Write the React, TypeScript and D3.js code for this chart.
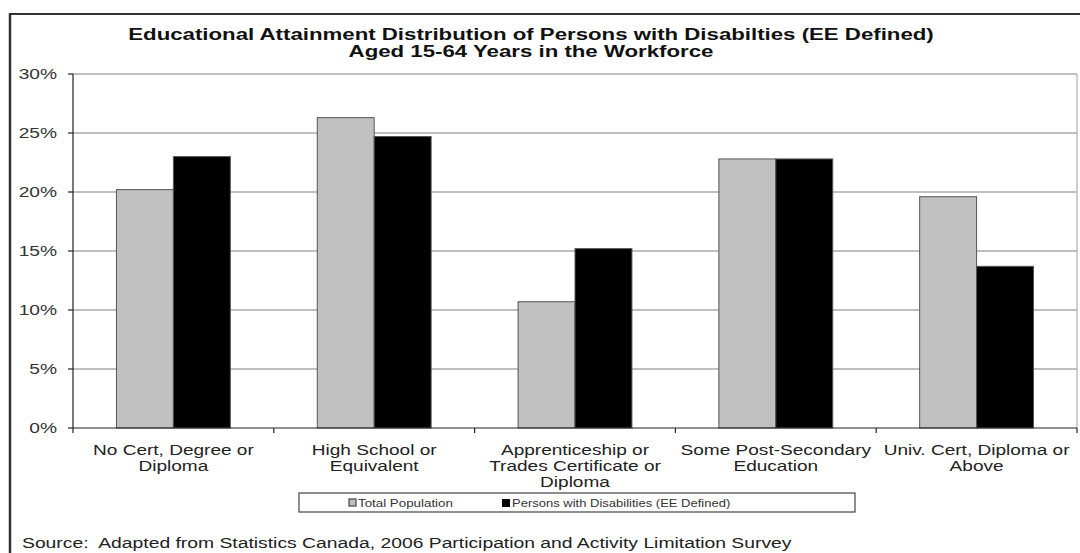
import React, { useEffect } from 'react';
import * as d3 from 'd3';

const categories = [
  ['No Cert, Degree or', 'Diploma'],
  ['High School or', 'Equivalent'],
  ['Apprenticeship or', 'Trades Certificate or', 'Diploma'],
  ['Some Post-Secondary', 'Education'],
  ['Univ. Cert, Diploma or', 'Above'],
];
const seriesNames = ['Total Population', 'Persons with Disabilities (EE Defined)'];
const totalPopulation = [20.2, 26.3, 10.7, 22.8, 19.6];
const personsWithDisabilities = [23.0, 24.7, 15.2, 22.8, 13.7];
const yTicks = [0, 5, 10, 15, 20, 25, 30];
const titleLines = [
  'Educational Attainment Distribution of Persons with Disabilties (EE Defined)',
  'Aged 15-64 Years in the Workforce',
];
const sourceText = 'Source:  Adapted from Statistics Canada, 2006 Participation and Activity Limitation Survey';

const W = 1080;
const H = 553;
const font = '"Liberation Sans", Arial, sans-serif';

// the reference text is stretched sideways, so every label is scaled on x
function Label({ x, y, sx, children, ...rest }: any) {
  return (
    <text transform={`translate(${x},${y}) scale(${sx},1)`} {...rest}>
      {children}
    </text>
  );
}

export default function App() {
  useEffect(() => {
    document.body.style.margin = '0';
  }, []);

  const plot = { left: 73, right: 1077, top: 74, bottom: 428 };
  const x = d3.scaleBand<number>()
    .domain(d3.range(categories.length))
    .range([plot.left, plot.right])
    .paddingInner(0.433)
    .paddingOuter(0.2165);
  const xs = d3.scaleBand<number>().domain([0, 1]).range([0, x.bandwidth()]);
  const y = d3.scaleLinear().domain([0, 30]).range([plot.bottom, plot.top]);
  const series = [totalPopulation, personsWithDisabilities];
  const fills = ['#c0c0c0', '#000000'];
  const step = x.step();

  return (
    <svg width={W} height={H} style={{ display: 'block', fontFamily: font }}>
      <rect width={W} height={H} fill="#fff" />
      {/* outer frame */}
      <line x1={10} x2={W} y1={14} y2={14} stroke="#333" strokeWidth={2} />
      <line x1={10} x2={10} y1={13} y2={H} stroke="#333" strokeWidth={2.5} />

      {titleLines.map((t, i) => (
        <Label key={i} x={531} y={40 + i * 17} sx={1.39} textAnchor="middle" fontSize={16} fontWeight="bold" fill="#111">
          {t}
        </Label>
      ))}

      {/* gridlines */}
      {yTicks.filter(t => t > 0).map(t => (
        <line key={t} x1={plot.left} x2={plot.right} y1={y(t)} y2={y(t)} stroke="#808080" strokeWidth={1.2} />
      ))}
      <line x1={plot.right} x2={plot.right} y1={plot.top} y2={plot.bottom} stroke="#a0a0a0" strokeWidth={1} />

      {/* bars */}
      {categories.map((_, i) => (
        <g key={i}>
          {series.map((s, j) => (
            <rect
              key={j}
              x={(x(i) as number) + (xs(j) as number)}
              y={y(s[i])}
              width={xs.bandwidth()}
              height={plot.bottom - y(s[i])}
              fill={fills[j]}
              stroke="#555"
              strokeWidth={1}
            />
          ))}
        </g>
      ))}

      {/* y axis */}
      <line x1={plot.left} x2={plot.left} y1={plot.top} y2={plot.bottom} stroke="#222" strokeWidth={1.2} />
      {yTicks.map(t => (
        <g key={t}>
          <line x1={plot.left - 5} x2={plot.left} y1={y(t)} y2={y(t)} stroke="#222" strokeWidth={1.2} />
          <Label x={57} y={y(t) + 5} sx={1.37} textAnchor="end" fontSize={14} fill="#333">{t}%</Label>
        </g>
      ))}

      {/* x axis */}
      <line x1={plot.left} x2={plot.right} y1={plot.bottom} y2={plot.bottom} stroke="#222" strokeWidth={1.2} />
      {d3.range(categories.length + 1).map(i => (
        <line key={i} x1={plot.left + i * step} x2={plot.left + i * step} y1={plot.bottom} y2={plot.bottom + 5} stroke="#222" strokeWidth={1.2} />
      ))}
      {categories.map((lines, i) =>
        lines.map((l, k) => (
          <Label key={`${i}-${k}`} x={(x(i) as number) + x.bandwidth() / 2} y={455 + k * 16} sx={1.36}
            textAnchor="middle" fontSize={14} fill="#222">
            {l}
          </Label>
        ))
      )}

      {/* legend */}
      <rect x={299} y={493} width={556} height={19} fill="#fff" stroke="#444" strokeWidth={1.2} />
      <rect x={349} y={499} width={7} height={7} fill="#c0c0c0" stroke="#444" strokeWidth={1.2} />
      <Label x={358} y={507} sx={1.27} fontSize={10.5} fill="#333">{seriesNames[0]}</Label>
      <rect x={502} y={499} width={8} height={8} fill="#000" />
      <Label x={512} y={507} sx={1.24} fontSize={10.5} fill="#333">{seriesNames[1]}</Label>

      <Label x={22} y={548} sx={1.38} fontSize={14} fill="#222" style={{ whiteSpace: 'pre' }}>{sourceText}</Label>
    </svg>
  );
}
